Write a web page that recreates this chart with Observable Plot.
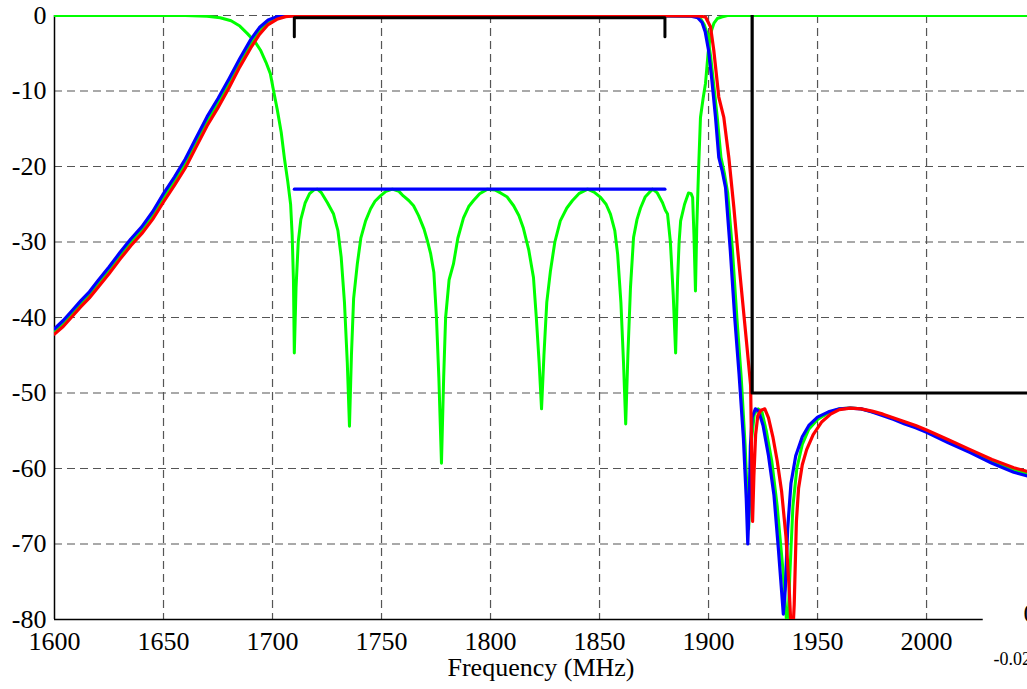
<!DOCTYPE html>
<html><head><meta charset="utf-8">
<script src="https://cdn.jsdelivr.net/npm/d3@7"></script>
<script src="https://cdn.jsdelivr.net/npm/@observablehq/plot@0.6"></script>
<style>
body{margin:0;background:#fff;overflow:hidden}
#chart svg, #chart svg text{font-family:"Liberation Serif","Times New Roman",serif !important}
</style>
</head><body><div id="chart"></div>
<script>
const xTicks = [1600,1650,1700,1750,1800,1850,1900,1950,2000];
const yTicks = [0,-10,-20,-30,-40,-50,-60,-70,-80];
const xLabel = "Frequency (MHz)";
const xDomain = [1600, 2046.3];
const yDomain = [-80, 0];
const xAxisEnd = 2026;

// S21 traces [MHz, dB]
const s21Blue = [[1600,-41.5],[1604,-40.4],[1608,-39.1],[1612,-37.8],[1616,-36.6],[1620,-35.1],[1625,-33.3],[1630,-31.4],[1635,-29.6],[1640,-28.0],[1645,-26.0],[1650,-23.6],[1655,-21.4],[1660,-19.0],[1665,-16.2],[1670,-13.4],[1675,-11.0],[1680,-8.4],[1685,-5.7],[1690,-3.2],[1694,-1.6],[1698,-0.6],[1702,-0.15],[1706,-0.05],[1750,0],[1850,0],[1892,-0.1],[1895,-0.3],[1897,-0.9],[1898.5,-2.2],[1900,-4.6],[1901.5,-8.5],[1903.2,-13.5],[1904.7,-18.8],[1906.2,-20.5],[1907.8,-22.8],[1910,-31.2],[1912,-40],[1914,-47.5],[1916,-56],[1917.3,-64],[1918,-70],[1918.6,-65],[1919.2,-57],[1920,-53.2],[1921.5,-52.1],[1923,-52.4],[1925,-54.3],[1927.5,-58.3],[1930,-63.5],[1932,-70.5],[1934.3,-79.3],[1935.2,-76],[1936.3,-68],[1937.8,-62],[1940,-58.3],[1943,-55.8],[1946,-54.3],[1950,-53.2],[1955,-52.5],[1960,-52.1],[1965,-52.0],[1970,-52.1],[1975,-52.5],[1980,-53.0],[1985,-53.5],[1990,-54.1],[1995,-54.6],[2000,-55.2],[2010,-56.6],[2020,-57.9],[2030,-59.3],[2040,-60.5],[2050,-61.3]];
const s21Red = [[1600,-42.2],[1604,-41.2],[1608,-39.9],[1612,-38.6],[1616,-37.4],[1620,-36.0],[1625,-34.2],[1630,-32.3],[1635,-30.5],[1640,-28.9],[1645,-27.0],[1650,-24.7],[1655,-22.5],[1660,-20.2],[1665,-17.4],[1670,-14.6],[1675,-12.2],[1680,-9.6],[1685,-6.8],[1690,-4.3],[1694,-2.5],[1698,-1.2],[1702,-0.5],[1706,-0.15],[1712,0],[1850,0],[1895,-0.05],[1898.6,-0.2],[1900.9,-1.5],[1902.4,-4.6],[1904.7,-10.8],[1907,-13.5],[1909.3,-18.8],[1911.6,-25.4],[1913.4,-31.2],[1915.5,-37.5],[1917.5,-43.5],[1919.3,-49],[1920.2,-67],[1920.8,-61],[1921.6,-55.5],[1922.6,-53],[1924,-52.3],[1925.8,-52.1],[1927.5,-53.3],[1929.5,-55.8],[1931.5,-59],[1933.5,-63],[1935.5,-69],[1937,-76],[1938.3,-84],[1939.3,-78],[1940.3,-67],[1941.3,-62.6],[1943,-59.5],[1945,-57.5],[1948,-55.5],[1952,-53.8],[1956,-52.8],[1960,-52.2],[1965,-52.0],[1970,-52.1],[1975,-52.4],[1980,-52.8],[1985,-53.3],[1990,-53.8],[1995,-54.3],[2000,-54.9],[2010,-56.2],[2020,-57.5],[2030,-58.8],[2040,-59.9],[2050,-60.7]];
const s21Green = [[1600,-41.8],[1604,-40.8],[1608,-39.5],[1612,-38.2],[1616,-37.0],[1620,-35.5],[1625,-33.7],[1630,-31.8],[1635,-30.0],[1640,-28.4],[1645,-26.5],[1650,-24.1],[1655,-21.9],[1660,-19.6],[1665,-16.8],[1670,-14.0],[1675,-11.6],[1680,-9.0],[1685,-6.2],[1690,-3.7],[1694,-2.0],[1698,-0.9],[1702,-0.3],[1706,-0.1],[1710,0],[1850,0],[1894,-0.1],[1896.5,-0.5],[1898,-1.2],[1899.5,-2.5],[1901,-5.5],[1902.5,-9.5],[1904,-13.5],[1905.7,-18.8],[1907.2,-20.8],[1908.8,-23.5],[1911,-31.2],[1913,-40],[1915,-48],[1916.8,-57],[1918.4,-68],[1919,-63],[1919.8,-56],[1921,-52.8],[1922.8,-52.1],[1924.5,-52.5],[1926.5,-55],[1929,-59],[1931.5,-65],[1934,-73],[1936.2,-82],[1937.3,-74],[1938.7,-65],[1940.5,-60],[1943,-56.8],[1946,-54.8],[1950,-53.5],[1955,-52.6],[1960,-52.1],[1965,-52.0],[1970,-52.1],[1975,-52.5],[1980,-52.9],[1985,-53.4],[1990,-54.0],[1995,-54.5],[2000,-55.0],[2010,-56.4],[2020,-57.7],[2030,-59.0],[2040,-60.2],[2050,-61.0]];
// S11 (return loss)
const s11Green = [[1600,0],[1660,0],[1670,-0.1],[1676,-0.3],[1681,-0.7],[1685,-1.4],[1688.5,-2.4],[1692,-3.5],[1694.5,-4.6],[1697,-6.2],[1699,-7.7],[1700.5,-10],[1702.2,-12.5],[1704,-15.5],[1705.5,-19],[1707,-22],[1708.3,-25],[1709,-29],[1709.6,-35],[1710,-44.7],[1710.8,-36],[1711.8,-30],[1713,-27],[1715,-24.8],[1717,-23.6],[1719,-23.1],[1720.6,-23],[1722.5,-23.5],[1725.2,-24.8],[1728,-26.3],[1730,-28.5],[1731.5,-32],[1733,-38],[1734.3,-46],[1735.3,-54.4],[1736.2,-45],[1737.2,-37.5],[1738.9,-32.9],[1740.5,-29.5],[1742.7,-27.2],[1745,-25.6],[1747,-24.6],[1749.5,-23.9],[1752,-23.3],[1755,-23],[1758,-23.3],[1760,-23.9],[1762.5,-24.5],[1764.7,-25.2],[1767,-26.5],[1769.5,-28.3],[1771,-29.8],[1772.5,-31.5],[1774,-34],[1775.2,-40],[1776.3,-48],[1777.5,-59.3],[1778.5,-48],[1779.4,-40],[1781,-35],[1783,-32.9],[1785,-29.5],[1787.6,-26.8],[1790,-25.3],[1792.2,-24.5],[1795,-23.6],[1798.6,-23],[1802,-23.1],[1804.6,-23.5],[1807.5,-24],[1810.6,-25.2],[1813,-26.5],[1815,-28.1],[1817.5,-31],[1819.7,-34.7],[1821,-40],[1822.3,-46],[1823.4,-52.1],[1824.5,-45],[1825.8,-38],[1827.5,-33.8],[1829.5,-30],[1832,-27.2],[1835,-25.5],[1837.6,-24.5],[1840.5,-23.6],[1844.5,-23],[1847.5,-23.4],[1850.5,-24.1],[1853,-25],[1855,-26.3],[1857,-28.5],[1858.3,-31.6],[1859.8,-38],[1861,-46],[1862,-54.1],[1863,-45],[1864.2,-36],[1865.6,-29.4],[1867.2,-27],[1868.8,-25.5],[1871,-24],[1874.3,-23],[1876.5,-23.5],[1878.9,-24.8],[1880.2,-25.8],[1881.2,-26.3],[1882.5,-30],[1883.8,-37],[1884.9,-44.7],[1885.8,-35],[1886.5,-30],[1887.2,-27.2],[1889,-25],[1890.8,-23.5],[1892,-23.6],[1892.7,-24.1],[1893.3,-29],[1894,-36.5],[1894.6,-28],[1895.4,-20.6],[1896.3,-13.5],[1897.5,-11],[1898.6,-9],[1899.8,-5],[1900.9,-2.4],[1902.5,-1.0],[1904,-0.4],[1906,-0.2],[1908.7,0],[2050,0]];

// specification masks
const passMask = [[1710,-2.8],[1710,-0.3],[1880,-0.3],[1880,-2.8]];
const stopMask = [[1920,0],[1920,-50],[2050,-50]];
const rlSpec = [[1710,-23],[1880,-23]];
const topLineSegments = [[1600,1671],[1896,2050]];

const FONT = "'Liberation Serif', 'Times New Roman', serif";
const line = (data, stroke, w) => Plot.line(data, {x: d => d[0], y: d => d[1], stroke, strokeWidth: w, strokeLinejoin: "round", clip: true});

const chart = Plot.plot({
  width: 1027, height: 689,
  marginLeft: 54, marginRight: 0, marginTop: 15, marginBottom: 70,
  x: {domain: xDomain},
  y: {domain: yDomain},
  style: {fontFamily: FONT, fontSize: "26px", background: "#fff", color: "#000", overflow: "visible"},
  marks: [
    Plot.ruleX(xTicks.slice(1), {stroke: "#555", strokeWidth: 1.2, strokeDasharray: "8,5"}),
    Plot.ruleY(yTicks.slice(0, -1), {stroke: "#555", strokeWidth: 1.2, strokeDasharray: "8,5"}),
    Plot.ruleY(topLineSegments, {y: () => 0, x1: d => d[0], x2: d => d[1], stroke: "#333", strokeWidth: 2, dy: -1.5, clip: true}),
    Plot.ruleX([1600], {stroke: "#000", strokeWidth: 1.5}),
    Plot.ruleY([-80], {x1: 1600, x2: xAxisEnd, stroke: "#000", strokeWidth: 1.5}),
    Plot.axisX({ticks: xTicks, tickSize: 0, tickPadding: 12, tickFormat: d => String(d), label: null, fontSize: 26, fontFamily: FONT}),
    Plot.axisY({ticks: yTicks, tickSize: 0, tickPadding: 8, tickFormat: d => String(d), label: null, fontSize: 26, fontFamily: FONT}),
    Plot.text([xLabel], {frameAnchor: "bottom", dy: 56, fontSize: 26, fontFamily: FONT}),
    Plot.text(["0"], {frameAnchor: "bottom-right", textAnchor: "start", dx: -4, dy: 2, fontSize: 26, fontFamily: FONT}),
    Plot.text(["-0.02"], {frameAnchor: "bottom-right", textAnchor: "start", dx: -34, dy: 45, fontSize: 18, fontFamily: FONT}),
    line(s11Green, "#00ff00", 3),
    line(rlSpec, "#0000ff", 3.2),
    line(s21Green, "#00ff00", 3),
    line(s21Blue, "#0000ff", 3.2),
    line(s21Red, "#ff0000", 3.2),
    Plot.line(passMask, {x: d => d[0], y: d => d[1], stroke: "#000", strokeWidth: 3, clip: true}),
    Plot.line(stopMask, {x: d => d[0], y: d => d[1], stroke: "#000", strokeWidth: 3.2, clip: true})
  ]
});
document.getElementById("chart").appendChild(chart);
</script>
</body></html>
